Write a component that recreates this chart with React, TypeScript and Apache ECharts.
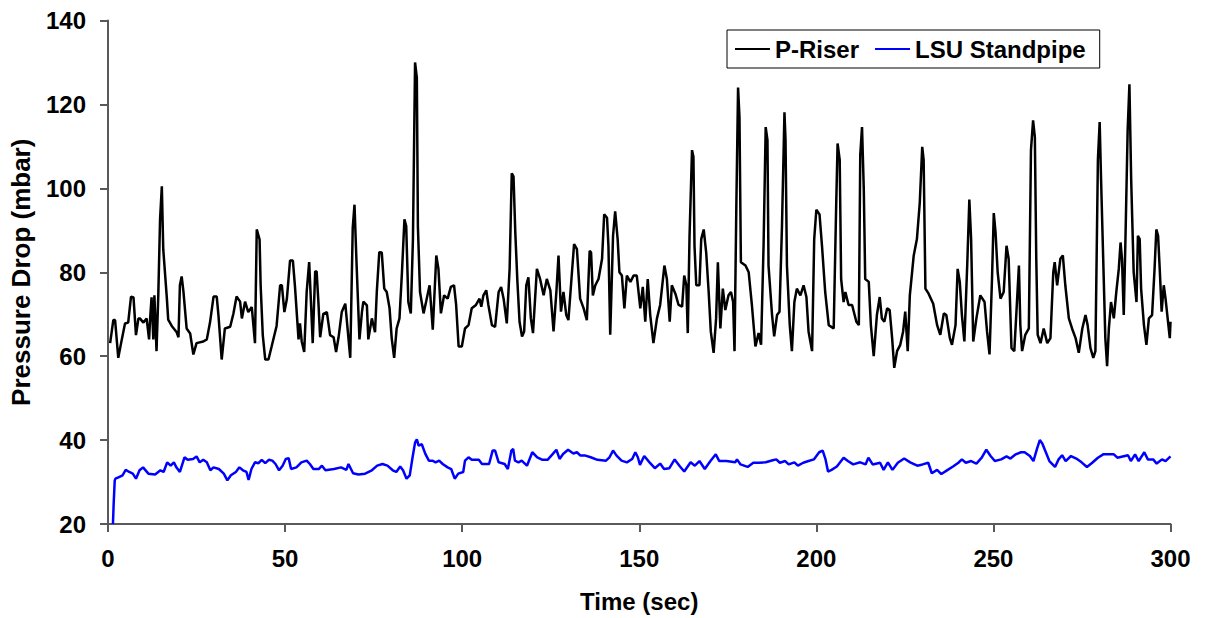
import React, { useEffect, useRef } from "react";
import * as echarts from "echarts";

// P-Riser: [time (sec), pressure drop (mbar)]
const riserPoints: [number, number][] = [
  [0.6, 63.1], [1.5, 68.6], [2.0, 68.6], [2.9, 59.6], [3.9, 64], [4.8, 67.8], [5.7, 68], [6.5, 74.2], [7.2, 74], [7.9, 65],
  [8.6, 69], [9.0, 69], [10.0, 68], [10.9, 69], [11.6, 64], [11.9, 69], [12.3, 74], [12.8, 64], [13.1, 74.5], [13.7, 61.2],
  [14.2, 74.5], [14.7, 92.6], [15.2, 100.5], [15.6, 85.5], [16.6, 74], [17.0, 68.7], [18.0, 67.2], [19.4, 65.7], [19.9, 64.5], [20.3, 76.9],
  [20.8, 79], [21.3, 75.4], [22.2, 66.6], [23.2, 65.4], [24.1, 60.4], [25.0, 63.1], [26.9, 63.5], [27.9, 64], [28.8, 68], [29.8, 74.2],
  [30.7, 74.2], [31.2, 69.6], [32.1, 59.2], [33.0, 66.6], [34.5, 67], [35.4, 70.1], [36.3, 74.2], [37.3, 73], [37.8, 69], [38.7, 73],
  [39.6, 70.5], [40.6, 71.7], [41.5, 63.1], [42.0, 90.2], [42.8, 87.8], [43.1, 76.9], [43.7, 65], [44.4, 59.2], [45.3, 59.2], [46.2, 62.3],
  [47.6, 67.2], [48.6, 76.9], [49.1, 76.9], [49.8, 70.5], [50.5, 73.6], [51.4, 82.8], [52.2, 82.8], [52.8, 76.5], [53.8, 64], [54.2, 67.8],
  [54.7, 63.5], [55.4, 61], [56.1, 75.4], [56.8, 82.4], [57.3, 73], [57.8, 63.1], [58.5, 80.2], [58.9, 80.2], [59.4, 73], [59.9, 64.5],
  [60.8, 70.1], [61.8, 70.5], [62.7, 65], [63.7, 64.5], [64.4, 61], [65.1, 64.5], [66.0, 70.5], [67.0, 72.5], [67.6, 67], [68.4, 59.6],
  [69.1, 90.5], [69.6, 96.1], [70.2, 81.6], [71.0, 64], [71.7, 70.5], [72.1, 73], [73.1, 72.1], [73.5, 64], [74.5, 69], [75.4, 65.7],
  [75.9, 75.4], [76.6, 84.8], [77.3, 84.7], [78.0, 76.1], [78.7, 75.3], [79.5, 71.4], [80.1, 64.3], [80.8, 59.6], [81.5, 66.6], [82.3, 69],
  [83.0, 80], [83.7, 92.6], [84.2, 91], [84.8, 72.9], [85.5, 70.2], [86.1, 87.9], [86.7, 130], [87.2, 126.4], [87.5, 91], [88.1, 75.3],
  [89.1, 70.2], [89.8, 72.9], [90.8, 76.9], [91.7, 66.3], [92.7, 84], [93.3, 80.8], [94.0, 70.2], [94.9, 74.5], [95.9, 73.7], [96.8, 76.5],
  [97.7, 76.9], [98.3, 72.2], [99.0, 62.3], [99.9, 62.3], [100.8, 66.6], [101.8, 67.4], [102.7, 71.4], [103.9, 72.2], [104.9, 73.7], [105.4, 71.8],
  [106.0, 74.5], [106.8, 75.7], [107.4, 72.2], [108.4, 67.4], [109.3, 67], [110.3, 75.3], [111.0, 76.5], [111.7, 73.7], [112.6, 67.8], [113.4, 80.8],
  [114.0, 103.6], [114.5, 102.8], [115.0, 89.5], [115.6, 77.7], [116.2, 68.2], [116.9, 64.7], [117.5, 65.9], [118.1, 76.9], [118.7, 78.8], [119.4, 69],
  [120.0, 65.5], [121.1, 80.8], [122.0, 78.4], [123.0, 74.5], [123.9, 78.4], [124.9, 75.7], [125.8, 65.9], [126.6, 75.3], [127.2, 84], [127.9, 70.6],
  [128.6, 75.3], [129.4, 69.8], [130.0, 68.6], [131.0, 80], [131.6, 86.7], [132.4, 85.5], [133.3, 73.7], [134.3, 71.4], [135.2, 68.6], [136.0, 85.1],
  [136.4, 84.7], [136.9, 74.5], [137.6, 76.9], [138.5, 78.4], [139.5, 83.2], [140.1, 93.8], [140.9, 93], [141.3, 86.3], [141.8, 65.1], [142.6, 88.7],
  [143.2, 94.5], [143.9, 87.9], [144.4, 80], [145.1, 79.2], [145.8, 71.4], [146.5, 79.2], [147.5, 77.7], [148.4, 79.2], [149.3, 79.2], [150.3, 71.4],
  [151.0, 76.5], [151.7, 68.2], [152.4, 78.4], [153.1, 69.8], [154.0, 63.1], [155.0, 69], [155.9, 72.2], [157.1, 81.6], [157.8, 78.4], [158.6, 68.2],
  [159.2, 76.9], [160.2, 74.9], [161.1, 72.2], [162.1, 71.8], [162.7, 79.2], [163.3, 76.9], [163.7, 65.5], [164.2, 88.7], [164.9, 109.1], [165.3, 107.5],
  [165.6, 86.3], [166.1, 76.9], [167.0, 76.9], [167.5, 87.9], [168.2, 90.2], [168.9, 84.7], [169.6, 75.3], [170.2, 65.9], [171.0, 60.8], [171.7, 69],
  [172.2, 82.4], [172.9, 66.6], [173.6, 76.1], [174.3, 71], [175.2, 74.5], [175.9, 75.3], [176.5, 72.9], [176.9, 61.2], [177.4, 94.9], [177.9, 124],
  [178.3, 117], [178.7, 82.4], [180.0, 81.6], [180.9, 80], [181.8, 72.2], [182.8, 62.3], [183.7, 65.5], [184.4, 62.7], [185.1, 86.3], [185.7, 114.6],
  [186.2, 111.5], [186.5, 81.6], [187.5, 69.8], [188.1, 64.7], [188.9, 69.8], [189.6, 70.6], [190.3, 91], [191.0, 118.1], [191.3, 111.5], [191.7, 81.6],
  [192.5, 67.4], [193.1, 61.2], [193.8, 72.9], [194.5, 76.1], [195.5, 74.5], [196.4, 76.9], [197.2, 74.1], [197.8, 65.9], [198.8, 61.2], [199.4, 87.9],
  [200.0, 94.9], [200.9, 93.8], [201.6, 86.3], [202.5, 75.3], [203.5, 67.4], [204.9, 66.6], [205.6, 95.7], [206.0, 110.7], [206.6, 106.8], [207.0, 78.4],
  [207.7, 72.9], [208.2, 75.3], [209.1, 72.2], [210.1, 72.2], [211.3, 68.2], [212.0, 67.4], [212.4, 107.9], [212.9, 114.6], [213.4, 99.7], [213.8, 78.4],
  [214.8, 77.7], [215.4, 67.4], [216.2, 60], [217.1, 69.8], [217.9, 74.1], [218.5, 69], [219.2, 68.2], [220.0, 71.4], [220.7, 71], [221.4, 64.3],
  [222.0, 57.2], [222.8, 61.2], [223.7, 62.7], [224.5, 65.9], [225.1, 70.6], [225.8, 61.2], [226.4, 74.5], [227.5, 84], [228.4, 87.9], [229.2, 96.5],
  [229.9, 109.9], [230.3, 106.8], [230.8, 76.1], [231.7, 74.9], [233.0, 72.5], [234.1, 67.4], [235.0, 65.1], [236.0, 70.2], [236.7, 69.8], [237.7, 64.3],
  [238.3, 62.7], [239.3, 67.4], [239.9, 80.8], [240.5, 77.7], [241.1, 69.8], [241.8, 63.5], [242.6, 81.6], [243.2, 97.3], [243.7, 87.9], [244.3, 63.5],
  [245.2, 69], [246.3, 74.5], [247.5, 72.9], [248.2, 65.9], [248.9, 60.4], [249.6, 78.4], [250.1, 94.1], [250.6, 89.5], [251.2, 80], [252.0, 73.7],
  [252.9, 75.3], [253.7, 86.3], [254.3, 83.2], [255.1, 61.9], [255.9, 61.2], [256.7, 73.7], [257.2, 81.6], [257.6, 67.4], [258.1, 61.2], [259.0, 65.1],
  [260.0, 66.6], [260.6, 109.1], [261.2, 116.2], [261.7, 112.2], [262.1, 83.2], [262.5, 65.1], [263.3, 63.1], [264.2, 66.6], [265.2, 63.1], [266.1, 64.3],
  [266.9, 80], [267.3, 82.4], [268.0, 76.9], [268.9, 83.2], [269.6, 84], [270.3, 76.9], [271.3, 69], [272.2, 66.6], [273.2, 64.3], [274.1, 60.8],
  [275.1, 66.6], [276.0, 69.8], [276.6, 67.4], [277.4, 61.9], [278.2, 59.6], [278.8, 61.2], [279.5, 106.8], [280.0, 115.8], [280.4, 102], [280.9, 86.3],
  [281.6, 64.3], [282.1, 57.6], [282.6, 66.6], [283.2, 72.9], [284.0, 69], [284.7, 75.3], [285.4, 80.8], [285.9, 87.1], [286.3, 83.2], [286.8, 69.8],
  [287.3, 88.7], [287.9, 113.8], [288.4, 124.8], [288.9, 102], [289.6, 80], [290.4, 72.9], [290.8, 88.7], [291.3, 87.9], [291.7, 76.1], [292.5, 67.4],
  [293.2, 62.7], [293.9, 69], [294.8, 69.8], [295.5, 80.8], [296.0, 90.2], [296.5, 88.7], [297.0, 80], [297.5, 70.6], [298.1, 76.9], [298.6, 73.7],
  [299.1, 69.8], [299.8, 64.3], [300, 68.2],
];

// LSU Standpipe: [time (sec), pressure drop (mbar)]
const standpipePoints: [number, number][] = [
  [1.4, 20], [1.6, 24.9], [1.9, 30.4], [2.1, 30.8], [3.1, 31.2], [4.1, 31.6], [5.0, 32.9], [6.0, 32.4], [7.0, 32], [7.9, 30.8],
  [8.9, 32.8], [9.9, 33.5], [11.4, 32], [13.3, 31.8], [14.8, 32.8], [15.7, 32.4], [16.7, 34.7], [17.7, 33.9], [18.6, 34.7], [19.3, 33.5],
  [20.3, 32.4], [21.6, 35.9], [22.5, 35.3], [24.0, 35.5], [25.0, 36.1], [25.9, 34.7], [26.9, 35.3], [27.9, 34.7], [28.9, 32.8], [29.8, 33.5],
  [31.3, 33.1], [32.7, 32], [33.7, 30.4], [34.7, 31.6], [36.1, 32.4], [37.1, 33.5], [38.1, 32.8], [39.1, 32.4], [39.7, 30.5], [40.5, 33.1],
  [41.5, 34.7], [42.5, 34.5], [43.4, 35.3], [44.4, 34.5], [45.4, 35.3], [46.4, 35.1], [47.3, 34.3], [48.3, 32.8], [49.3, 33.9], [50.2, 35.5],
  [51.0, 35.7], [51.7, 33.1], [53.2, 33.5], [54.6, 34.7], [56.1, 35.1], [57.0, 34.3], [58.0, 33.1], [59.5, 33.1], [60.4, 33.9], [61.4, 32.8],
  [63.8, 33.1], [65.8, 33.5], [67.3, 32.9], [67.9, 34.3], [69.2, 32.1], [70.7, 31.8], [72.6, 32], [74.5, 32.8], [76.0, 33.9], [77.5, 34.3],
  [78.9, 33.9], [80.4, 32.8], [81.4, 32.4], [82.5, 33.7], [83.3, 32.8], [84.3, 30.8], [85.2, 31.6], [86.0, 35.9], [86.7, 39.4], [87.2, 40.2],
  [87.7, 38.7], [88.6, 39], [89.6, 36.7], [90.6, 35.1], [91.6, 35.1], [92.5, 34.7], [93.5, 35.1], [94.5, 34.3], [95.9, 33.5], [96.9, 33.1],
  [97.9, 30.8], [98.9, 32], [100.3, 32.4], [100.8, 35.1], [101.8, 35.9], [102.7, 35.3], [104.7, 35.3], [105.6, 34.3], [107.6, 34.3], [108.6, 37.5],
  [109.3, 37.5], [110.3, 34.7], [112.0, 34.3], [112.9, 33.1], [113.9, 37.5], [114.4, 37.9], [114.9, 35.1], [115.9, 34.7], [116.8, 35.1], [118.3, 33.9],
  [119.8, 37.1], [121.2, 35.9], [122.7, 35.3], [124.1, 35.3], [125.6, 36.7], [126.6, 37.7], [127.5, 35.5], [128.5, 36.7], [129.9, 37.7], [131.4, 36.8],
  [132.4, 37.1], [133.4, 36.3], [134.8, 36.3], [136.3, 35.9], [138.2, 35.3], [140.6, 35.1], [141.6, 35.9], [142.6, 37.5], [143.6, 36.3], [145.0, 35.1],
  [146.5, 34.7], [148.0, 35.5], [148.9, 37.1], [149.6, 35.9], [150.2, 34.1], [151.4, 36.2], [152.9, 34.7], [154.4, 33.3], [155.9, 34.4], [157.0, 33.1],
  [158.5, 33.3], [160.0, 35.4], [161.5, 33.7], [162.7, 32.5], [164.5, 34.7], [165.7, 33.9], [167.0, 35], [168.5, 33.1], [170.1, 35], [171.6, 36.6],
  [172.6, 35], [174.6, 35], [177.1, 34.7], [177.6, 35.4], [178.6, 34.2], [180.6, 33.6], [182.2, 34.6], [183.7, 34.6], [185.7, 34.7], [187.7, 35.2],
  [188.7, 35.4], [189.7, 34.6], [191.2, 35], [192.2, 34.2], [193.8, 34.7], [194.8, 33.9], [196.3, 34.6], [197.8, 35], [199.3, 35.4], [200.8, 37.1],
  [201.8, 37.5], [202.6, 35.4], [203.3, 32.5], [204.3, 32.9], [205.8, 33.7], [207.7, 35.8], [208.9, 35], [210.4, 34.2], [212.4, 34.7], [213.9, 34.2],
  [214.7, 35.8], [215.9, 34.2], [218.0, 34.6], [219.0, 32.9], [220.2, 34.7], [221.5, 32.9], [223.0, 34.6], [224.8, 35.6], [226.5, 34.7], [228.5, 33.9],
  [230.0, 34.2], [231.6, 34.6], [232.6, 32.1], [234.1, 32.9], [235.3, 31.9], [237.1, 32.9], [238.6, 33.7], [240.1, 34.6], [241.1, 35.4], [242.2, 34.6],
  [243.7, 35], [245.2, 34.4], [246.7, 35.8], [248.0, 37.7], [249.2, 36.2], [250.4, 35], [252.2, 35.4], [253.7, 36.1], [254.8, 35.6], [256.3, 36.6],
  [257.8, 37.1], [258.8, 37.1], [260.3, 36.2], [261.3, 35], [262.3, 37.9], [263.1, 40], [263.8, 39.2], [264.8, 37.1], [265.8, 35], [267.4, 33.6],
  [268.4, 35.4], [269.4, 36.4], [270.4, 35], [271.9, 36.2], [273.4, 35.6], [274.9, 34.7], [276.4, 33.6], [277.9, 34.6], [279.5, 35.8], [281.0, 36.6],
  [284.0, 36.6], [285.0, 35.8], [286.5, 36.1], [288.0, 36.4], [288.8, 35], [290.0, 36.6], [291.0, 35], [292.6, 37.1], [293.6, 35.4], [295.1, 35.4],
  [296.1, 34.4], [297.6, 35.4], [298.6, 35], [300, 36.1],
];

const seriesNames = ["P-Riser", "LSU Standpipe"];
const seriesColors = ["#000000", "#0000ff"];
const xRange = { min: 0, max: 300, interval: 50 };
const yRange = { min: 20, max: 140, interval: 20 };
const xTitle = "Time (sec)";
const yTitle = "Pressure Drop (mbar)";

const FONT = "'Liberation Sans', Arial, sans-serif";
const AXIS_COLOR = "#595959";

export default function App() {
  const ref = useRef<HTMLDivElement>(null);

  useEffect(() => {
    if (!ref.current) return;
    const chart = echarts.init(ref.current, null, { renderer: "svg" });
    const labelStyle = { fontSize: 24, fontWeight: "bold" as const, color: "#000", fontFamily: FONT };
    chart.setOption({
      animation: false,
      backgroundColor: "#ffffff",
      textStyle: { fontFamily: FONT },
      grid: { left: 108, right: 34.5, top: 20.5, bottom: 91.5 },
      legend: {
        left: 727,
        top: 30,
        orient: "horizontal",
        icon: "rect",
        itemWidth: 35,
        itemHeight: 2,
        itemGap: 16,
        padding: [7, 14, 7, 8],
        borderColor: "#000",
        borderWidth: 1,
        backgroundColor: "#fff",
        textStyle: { ...labelStyle, fontSize: 24 },
        data: seriesNames,
      },
      xAxis: {
        type: "value",
        min: xRange.min,
        max: xRange.max,
        interval: xRange.interval,
        name: xTitle,
        nameLocation: "middle",
        nameGap: 65,
        nameTextStyle: labelStyle,
        axisLine: { show: true, onZero: false, lineStyle: { color: AXIS_COLOR, width: 2 } },
        axisTick: { show: true, length: 8, lineStyle: { color: AXIS_COLOR, width: 2 } },
        axisLabel: { ...labelStyle, margin: 22 },
        splitLine: { show: false },
      },
      yAxis: {
        type: "value",
        min: yRange.min,
        max: yRange.max,
        interval: yRange.interval,
        name: yTitle,
        nameLocation: "middle",
        nameRotate: 90,
        nameGap: 74,
        nameTextStyle: { ...labelStyle, fontSize: 26 },
        axisLine: { show: true, onZero: false, lineStyle: { color: AXIS_COLOR, width: 2 } },
        axisTick: { show: true, length: 8, lineStyle: { color: AXIS_COLOR, width: 2 } },
        axisLabel: { ...labelStyle, margin: 22 },
        splitLine: { show: false },
      },
      series: [
        {
          name: seriesNames[0],
          type: "line",
          data: riserPoints,
          symbol: "none",
          showSymbol: false,
          clip: true,
          color: seriesColors[0],
          itemStyle: { color: seriesColors[0] },
          lineStyle: { color: seriesColors[0], width: 2.5 },
        },
        {
          name: seriesNames[1],
          type: "line",
          data: standpipePoints,
          symbol: "none",
          showSymbol: false,
          clip: true,
          color: seriesColors[1],
          itemStyle: { color: seriesColors[1] },
          lineStyle: { color: seriesColors[1], width: 2.5 },
        },
      ],
    });
    return () => chart.dispose();
  }, []);

  return (
    <div
      ref={ref}
      style={{ position: "absolute", left: 0, top: 0, width: 1205, height: 618, background: "#fff" }}
    />
  );
}
